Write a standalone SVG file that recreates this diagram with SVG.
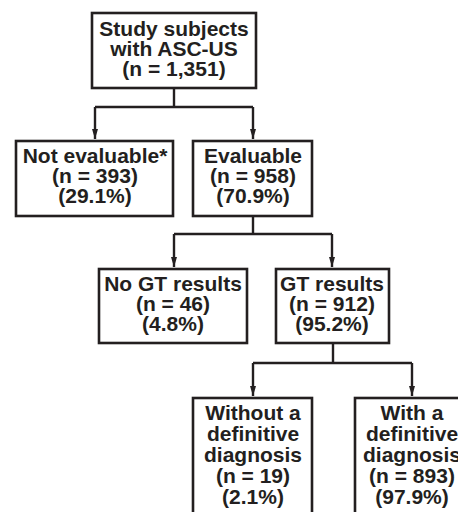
<svg xmlns="http://www.w3.org/2000/svg" width="458" height="512" viewBox="0 0 458 512">
<style>
.box{fill:#fff;stroke:#231f20;stroke-width:2.6}
.t{font-family:"Liberation Sans",Arial,Helvetica,sans-serif;font-weight:bold;font-size:21px;fill:#231f20;text-anchor:middle}
.c{fill:none;stroke:#231f20;stroke-width:2.4}
</style>
<defs>
<marker id="arr" markerUnits="userSpaceOnUse" markerWidth="10" markerHeight="8" refX="10" refY="4" orient="auto" viewBox="0 0 10 8">
<path d="M0,1 L10,4 L0,7 Z" fill="#231f20"/>
</marker>
</defs>
<g id="connectors">
<path class="c" d="M174,88 V107"/>
<path class="c" d="M95,107 H253"/>
<path class="c" d="M95,107 V139" marker-end="url(#arr)"/>
<path class="c" d="M253,107 V139" marker-end="url(#arr)"/>
<path class="c" d="M253,216 V234"/>
<path class="c" d="M174,234 H332"/>
<path class="c" d="M174,234 V267" marker-end="url(#arr)"/>
<path class="c" d="M332,234 V267" marker-end="url(#arr)"/>
<path class="c" d="M333,343 V363"/>
<path class="c" d="M253,363 H412"/>
<path class="c" d="M253,363 V396" marker-end="url(#arr)"/>
<path class="c" d="M412,363 V396" marker-end="url(#arr)"/>
</g>
<g id="n_study">
<rect class="box" x="92" y="13" width="164" height="75"/>
<text class="t" x="174" y="36">Study subjects</text>
<text class="t" x="174" y="56">with ASC-US</text>
<text class="t" x="174" y="76">(n = 1,351)</text>
</g>
<g id="n_notevaluable">
<rect class="box" x="16" y="141" width="157" height="75"/>
<text class="t" x="95" y="163">Not evaluable*</text>
<text class="t" x="95" y="183">(n = 393)</text>
<text class="t" x="95" y="203">(29.1%)</text>
</g>
<g id="n_evaluable">
<rect class="box" x="193" y="141" width="119" height="75"/>
<text class="t" x="253" y="163">Evaluable</text>
<text class="t" x="253" y="183">(n = 958)</text>
<text class="t" x="253" y="203">(70.9%)</text>
</g>
<g id="n_nogt">
<rect class="box" x="99" y="269" width="148" height="74"/>
<text class="t" x="173" y="291">No GT results</text>
<text class="t" x="173" y="311">(n = 46)</text>
<text class="t" x="173" y="331">(4.8%)</text>
</g>
<g id="n_gt">
<rect class="box" x="276" y="269" width="113" height="74"/>
<text class="t" x="332" y="291">GT results</text>
<text class="t" x="332" y="311">(n = 912)</text>
<text class="t" x="332" y="331">(95.2%)</text>
</g>
<g id="n_without">
<rect class="box" x="193" y="398" width="119" height="130"/>
<text class="t" x="253" y="420">Without a</text>
<text class="t" x="253" y="441">definitive</text>
<text class="t" x="253" y="462">diagnosis</text>
<text class="t" x="253" y="483">(n = 19)</text>
<text class="t" x="253" y="504">(2.1%)</text>
</g>
<g id="n_with">
<rect class="box" x="355" y="398" width="114" height="130"/>
<text class="t" x="412" y="420">With a</text>
<text class="t" x="412" y="441">definitive</text>
<text class="t" x="412" y="462">diagnosis</text>
<text class="t" x="412" y="483">(n = 893)</text>
<text class="t" x="412" y="504">(97.9%)</text>
</g>
</svg>
